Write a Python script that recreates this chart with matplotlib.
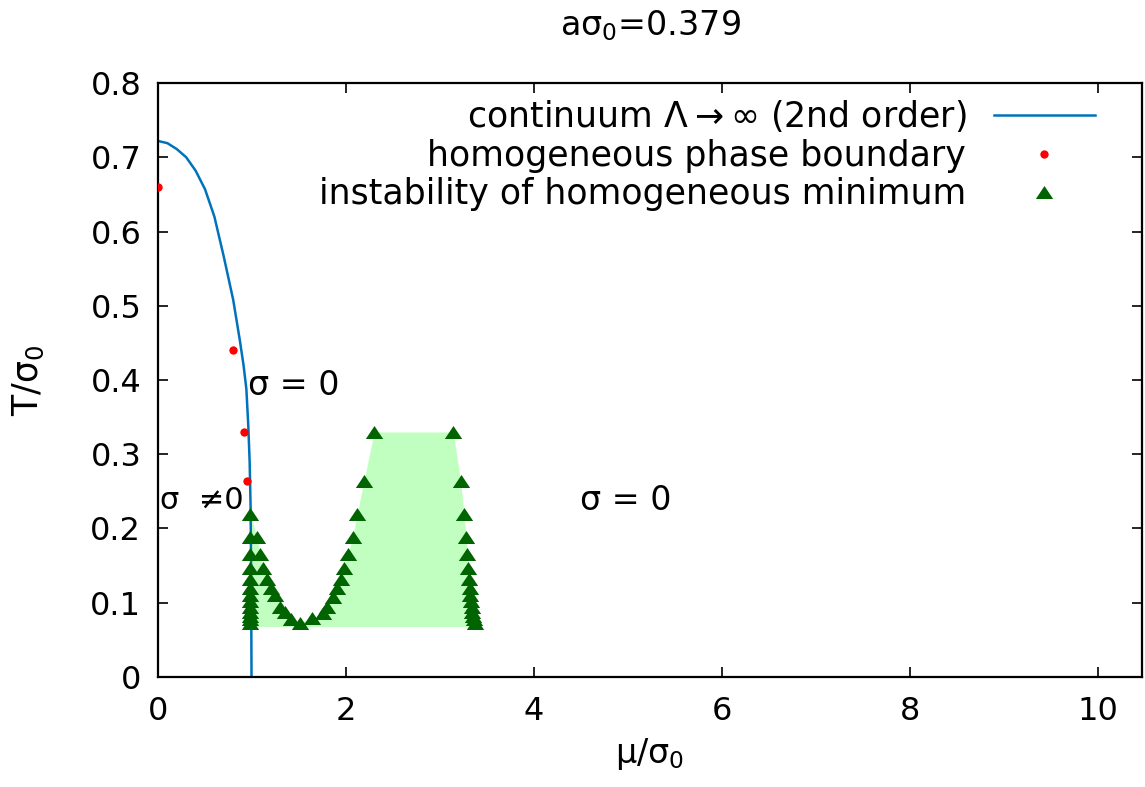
import numpy as np
import matplotlib
matplotlib.use("Agg")
import matplotlib.pyplot as plt

plt.rcParams["font.family"] = ["DejaVu Sans"]
plt.rcParams["mathtext.fontset"] = "dejavusans"

# -------------------------
# data
# -------------------------
# continuum second order boundary
curve_mu = [0.0, 0.1, 0.2, 0.3, 0.4, 0.5, 0.6, 0.7, 0.8, 0.87, 0.91, 0.94,
            0.96, 0.975, 0.985, 0.99, 0.995]
curve_T = [0.722, 0.719, 0.711, 0.700, 0.682, 0.657, 0.620, 0.566, 0.508, 0.454,
           0.420, 0.388, 0.340, 0.290, 0.230, 0.150, 0.0]

# homogeneous phase boundary (lattice)
hom_mu = [0.0, 0.80, 0.915, 0.947]
hom_T = [0.660, 0.440, 0.330, 0.264]

# instability of homogeneous minimum
# left column (just right of the boundary)
left_mu = [0.98] * 13
left_T = [0.22, 0.189, 0.165, 0.147, 0.132, 0.12, 0.11, 0.102, 0.094, 0.088, 0.082, 0.078, 0.073]
# the dip: left arm (T falling) then right arm (T rising)
dip_mu = [1.05, 1.085, 1.12, 1.16, 1.20, 1.245, 1.30, 1.35, 1.42, 1.51,
          1.635, 1.76, 1.795, 1.865, 1.90, 1.95, 1.98, 2.02, 2.07, 2.12, 2.19, 2.30]
dip_T = [0.189, 0.165, 0.147, 0.132, 0.12, 0.11, 0.094, 0.088, 0.078, 0.073,
         0.079, 0.086, 0.094, 0.108, 0.12, 0.132, 0.147, 0.165, 0.189, 0.22, 0.264, 0.33]
# right column (T falling)
right_mu = [3.14, 3.22, 3.255, 3.28, 3.29, 3.30, 3.31, 3.315, 3.32, 3.33, 3.34, 3.345, 3.35, 3.36, 3.37]
right_T = [0.33, 0.264, 0.22, 0.189, 0.165, 0.147, 0.132, 0.12, 0.11, 0.102, 0.094, 0.088, 0.082, 0.078, 0.073]

fill_floor = 0.068

# -------------------------
# plot
# -------------------------
fig = plt.figure(figsize=(11.45, 7.87), dpi=100)
ax = fig.add_axes([0.138, 0.1398, 0.8594, 0.7547])

# shaded instability region
fill_mu = [left_mu[0]] + dip_mu + right_mu
fill_T = [left_T[0]] + dip_T + right_T
ax.fill_between(fill_mu, fill_T, fill_floor, color="#c0ffc0", lw=0, zorder=1)

ax.plot(curve_mu, curve_T, color="#0072bd", lw=1.8, zorder=2,
        label=r"continuum $\Lambda\rightarrow\infty$ (2nd order)")
ax.plot(hom_mu, hom_T, ls="none", marker="o", ms=6, mec="none", color="red",
        zorder=3, label="homogeneous phase boundary")

tri = [(0, 0.75), (-1, -0.75), (1, -0.75), (0, 0.75)]
inst_mu = left_mu + dip_mu + right_mu
inst_T = left_T + dip_T + right_T
ax.plot(inst_mu, inst_T, ls="none", marker=tri, ms=12.5, mec="none", color="#006400",
        zorder=4, label="instability of homogeneous minimum")

ax.text(0.96, 0.393, "σ = 0", fontsize=24, ha="left", va="center")
ax.text(4.49, 0.238, "σ = 0", fontsize=24, ha="left", va="center")
ax.text(0.02, 0.238, "σ  ≠0", fontsize=22, ha="left", va="center")

ax.set_xlim(0, 10.47)
ax.set_ylim(0, 0.8)
ax.set_xticks([0, 2, 4, 6, 8, 10])
ax.set_yticks(np.arange(0, 0.81, 0.1))
ax.set_yticklabels(["0", "0.1", "0.2", "0.3", "0.4", "0.5", "0.6", "0.7", "0.8"])
ax.tick_params(direction="in", length=7, width=1.2, labelsize=23,
               top=True, right=True)
ax.tick_params(axis="x", pad=14)
ax.tick_params(axis="y", pad=12)
for s in ax.spines.values():
    s.set_linewidth(1.6)

ax.set_xlabel(r"μ/σ$_0$", fontsize=24, labelpad=6)
ax.set_ylabel(r"T/σ$_0$", fontsize=25, labelpad=32)
fig.text(0.568, 0.968, r"aσ$_0$=0.379", fontsize=24, ha="center", va="center")

ax.legend(loc="upper right", bbox_to_anchor=(0.952, 0.974), frameon=False,
          markerfirst=False, fontsize=25, borderpad=0, borderaxespad=0,
          handlelength=2.9, handletextpad=0.8, labelspacing=0.13)

fig.savefig("out.png", dpi=100)
